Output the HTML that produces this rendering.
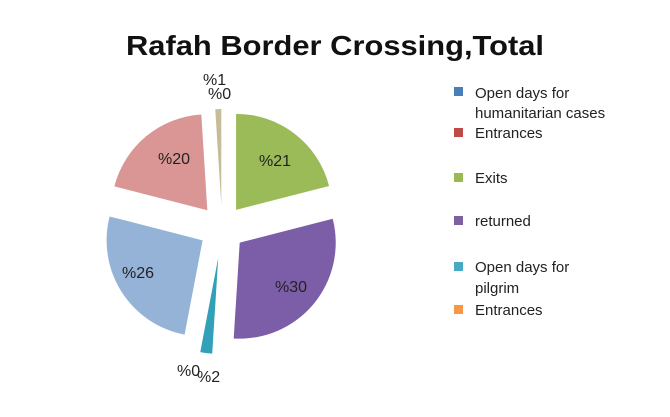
<!DOCTYPE html>
<html><head><style>
body{margin:0;background:#fff;}
svg{display:block;font-family:"Liberation Sans",Arial,sans-serif;}
</style></head><body>
<svg id="s" width="670" height="417" viewBox="0 0 670 417">
<text x="335" y="55" text-anchor="middle" font-size="28" font-weight="bold" fill="#111" textLength="418" lengthAdjust="spacingAndGlyphs">Rafah Border Crossing,Total</text>
<g id="pie"></g>
<g font-size="16" fill="#222">
<text x="203" y="85">%1</text>
<text x="208" y="99">%0</text>
<text x="158" y="164">%20</text>
<text x="259" y="166">%21</text>
<text x="122" y="278">%26</text>
<text x="275" y="292">%30</text>
<text x="177" y="376">%0</text>
<text x="197" y="382">%2</text>
</g>
<g font-size="15" fill="#222">
<rect x="454" y="87" width="9" height="9" fill="#4a7ebb"/>
<text x="475" y="98">Open days for</text>
<text x="475" y="118">humanitarian cases</text>
<rect x="454" y="128" width="9" height="9" fill="#be4b48"/>
<text x="475" y="138">Entrances</text>
<rect x="454" y="173" width="9" height="9" fill="#98b954"/>
<text x="475" y="183">Exits</text>
<rect x="454" y="216" width="9" height="9" fill="#7d60a0"/>
<text x="475" y="226">returned</text>
<rect x="454" y="262" width="9" height="9" fill="#46aac5"/>
<text x="475" y="272">Open days for</text>
<text x="475" y="293">pilgrim</text>
<rect x="454" y="305" width="9" height="9" fill="#f79646"/>
<text x="475" y="315">Entrances</text>
</g>
</svg>
<script>
var C=[222,228],R=96,d=23;
var sl=[[0,75.6,"#9bbb59",d],[75.6,183.6,"#7b5ea7",d],[183.6,190.8,"#31a0b8",30],[190.8,284.4,"#95b3d7",d],[284.4,356.4,"#d99694",d],[356.4,360,"#c4bd97",d]];
var g=document.getElementById("pie"),h="";
function p(a,r,c){a=a*Math.PI/180;return [c[0]+r*Math.sin(a),c[1]-r*Math.cos(a)];}
sl.forEach(function(s){var m=(s[0]+s[1])/2,c=p(m,s[3],C),a=p(s[0],R,c),b=p(s[1],R,c);
h+='<path d="M'+c[0]+' '+c[1]+'L'+a[0]+' '+a[1]+'A'+R+' '+R+' 0 '+((s[1]-s[0])>180?1:0)+' 1 '+b[0]+' '+b[1]+'Z" fill="'+s[2]+'"/>';});
g.innerHTML=h;
</script>
</body></html>
